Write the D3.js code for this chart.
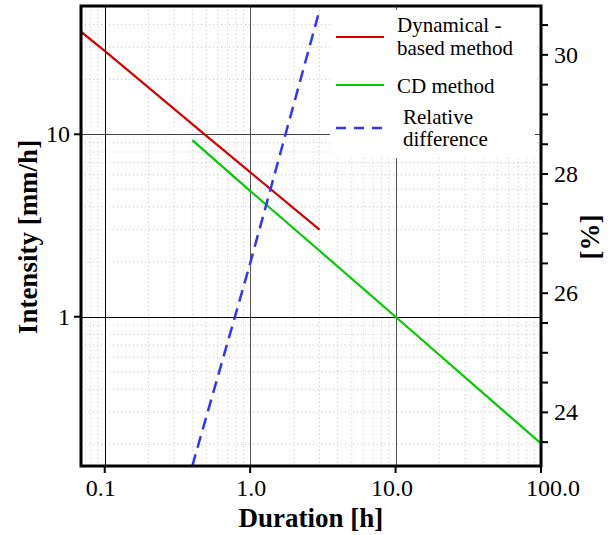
<!DOCTYPE html>
<html><head><meta charset="utf-8">
<script src="https://cdn.jsdelivr.net/npm/d3@7"></script>
</head><body>
<script>
// ---- data ----
const xTicks = [0.1, 1, 10, 100];
const xTickLabels = ["0.1", "1.0", "10.0", "100.0"];
const yLeftTicks = [1, 10];
const yLeftTickLabels = ["1", "10"];
const yRightTicks = [24, 26, 28, 30];
const yRightMinor = [23.5, 24.5, 25, 25.5, 26.5, 27, 27.5, 28.5, 29, 29.5, 30.5];

const dynDur = [0.0687, 0.1, 0.5, 1, 3];
const dynVal = [36.5, 28.7, 9.8, 6.2, 3.0];
const cdDur = [0.4, 1, 3, 10, 100];
const cdVal = [9.3, 4.9, 2.3, 1.0, 0.202];
const relDur = [0.4, 1, 3];
const relVal = [23.1, 26.5, 30.75];

const legendLabels = [["Dynamical -", "based method"], ["CD method"], ["Relative", "difference"]];
const colors = ["#d40000", "#00cc00", "#3333ff"];

// ---- chart ----
const W = 614, H = 535;
const L = 81, R = 541, T = 6, B = 466;
const FONT = '"Times New Roman", "Liberation Serif", Tinos, Times';
d3.select("body").style("margin", "0px").style("background", "#fff");
const svg = d3.select("body").append("svg").attr("width", W).attr("height", H)
  .style("display", "block").style("font-family", FONT).attr("font-family", FONT);

const x = d3.scaleLog().domain([0.0687, 100]).range([L, R]);
const yL = d3.scaleLog().domain([0.152, 50.5]).range([B, T]);
const yR = d3.scaleLinear().domain([23.1, 30.82]).range([B, T]);

svg.append("defs").append("clipPath").attr("id", "clip")
  .append("rect").attr("x", L).attr("y", T).attr("width", R - L).attr("height", B - T);

// minor grid
const minorX = [];
[0.01, 0.1, 1, 10].forEach(b => { for (let k = 2; k <= 9; k++) { const v = b * k; if (v > 0.0687 && v < 100) minorX.push(v); } });
const minorY = [];
[0.1, 1, 10].forEach(b => { for (let k = 2; k <= 9; k++) { const v = b * k; if (v > 0.152 && v < 50.5) minorY.push(v); } });
const g = svg.append("g");
g.selectAll(".mx").data(minorX).join("line")
  .attr("x1", d => x(d)).attr("x2", d => x(d)).attr("y1", T).attr("y2", B)
  .attr("stroke", "#c8c8c8").attr("stroke-width", 1).attr("stroke-dasharray", "1,3");
g.selectAll(".my").data(minorY).join("line")
  .attr("x1", L).attr("x2", R).attr("y1", d => yL(d)).attr("y2", d => yL(d))
  .attr("stroke", "#c8c8c8").attr("stroke-width", 1).attr("stroke-dasharray", "1,3");
// major grid
g.selectAll(".gx").data(xTicks.filter(d => d < 100)).join("line")
  .attr("x1", d => Math.round(x(d)) + 0.5).attr("x2", d => Math.round(x(d)) + 0.5).attr("y1", T).attr("y2", B)
  .attr("stroke", (d, i) => i === 0 ? "#000" : "#555").attr("stroke-width", 1);
g.selectAll(".gy").data(yLeftTicks).join("line")
  .attr("x1", L).attr("x2", R).attr("y1", d => Math.round(yL(d)) + 0.5).attr("y2", d => Math.round(yL(d)) + 0.5)
  .attr("stroke", (d, i) => i === 0 ? "#000" : "#444").attr("stroke-width", 1);

// lines
const clipG = svg.append("g").attr("clip-path", "url(#clip)");
const lineL = d3.line().x(d => x(d[0])).y(d => yL(d[1]));
const lineR = d3.line().x(d => x(d[0])).y(d => yR(d[1]));
clipG.append("path").datum(dynDur.map((d, i) => [d, dynVal[i]])).attr("d", lineL)
  .attr("fill", "none").attr("stroke", colors[0]).attr("stroke-width", 2.2);
clipG.append("path").datum(cdDur.map((d, i) => [d, cdVal[i]])).attr("d", lineL)
  .attr("fill", "none").attr("stroke", colors[1]).attr("stroke-width", 2.2);
clipG.append("path").datum(relDur.map((d, i) => [d, relVal[i]])).attr("d", lineR)
  .attr("fill", "none").attr("stroke", colors[2]).attr("stroke-width", 2.5).attr("stroke-dasharray", "12,7");

// legend
const lg = svg.append("g");
lg.append("rect").attr("x", 330).attr("y", 10).attr("width", 205).attr("height", 148).attr("fill", "#fff");
const legY = [37, 85, 128];
const legTextY = [[32, 55], [93], [124, 146]];
const legTextX = [397, 397, 403];
legendLabels.forEach((lab, i) => {
  lg.append("line").attr("x1", 336).attr("x2", 384).attr("y1", legY[i]).attr("y2", legY[i])
    .attr("stroke", colors[i]).attr("stroke-width", i === 2 ? 2.5 : 2.2)
    .attr("stroke-dasharray", i === 2 ? "10,8" : null);
  lab.forEach((t, j) => {
    lg.append("text").attr("x", legTextX[i]).attr("y", legTextY[i][j]).text(t)
      .style("font-family", FONT).style("font-size", "21px").style("fill", "#000");
  });
});

// frame
svg.append("rect").attr("x", L).attr("y", T).attr("width", R - L).attr("height", B - T)
  .attr("fill", "none").attr("stroke", "#000").attr("stroke-width", 3);

// bottom axis ticks + labels
const ax = svg.append("g");
const xLabelShift = [-4, 1, -3.5, 12];
ax.selectAll(".bt").data(xTicks).join("line")
  .attr("x1", d => x(d)).attr("x2", d => x(d)).attr("y1", B).attr("y2", B + 7)
  .attr("stroke", "#000").attr("stroke-width", 2);
ax.selectAll(".bl").data(xTicks).join("text")
  .attr("x", (d, i) => x(d) + xLabelShift[i]).attr("y", 496).attr("text-anchor", "middle").text((d, i) => xTickLabels[i])
  .style("font-family", FONT).style("font-size", "24px");
// left axis
ax.selectAll(".lt").data(yLeftTicks).join("line")
  .attr("x1", L - 7).attr("x2", L).attr("y1", d => yL(d)).attr("y2", d => yL(d))
  .attr("stroke", "#000").attr("stroke-width", 2);
ax.selectAll(".ll").data(yLeftTicks).join("text")
  .attr("x", 70).attr("y", d => yL(d)).attr("dy", "0.33em").attr("text-anchor", "end").text((d, i) => yLeftTickLabels[i])
  .style("font-family", FONT).style("font-size", "24px");
// right axis
ax.selectAll(".rt").data(yRightTicks.concat(yRightMinor)).join("line")
  .attr("x1", R).attr("x2", R + 7).attr("y1", d => yR(d)).attr("y2", d => yR(d))
  .attr("stroke", "#000").attr("stroke-width", 2);
ax.selectAll(".rl").data(yRightTicks).join("text")
  .attr("x", 554).attr("y", d => yR(d)).attr("dy", "0.33em").attr("text-anchor", "start").text(d => d)
  .style("font-family", FONT).style("font-size", "24px");

// titles
svg.append("text").attr("x", 311).attr("y", 527).attr("text-anchor", "middle").text("Duration [h]")
  .style("font-family", FONT).style("font-size", "27px").style("font-weight", "bold");
svg.append("text").attr("transform", "translate(37,237) rotate(-90)").attr("text-anchor", "middle").text("Intensity [mm/h]")
  .style("font-family", FONT).style("font-size", "27px").style("font-weight", "bold");
svg.append("text").attr("transform", "translate(599,237) rotate(-90)").attr("text-anchor", "middle").text("[%]")
  .style("font-family", FONT).style("font-size", "27px").style("font-weight", "bold");
</script>
</body></html>
